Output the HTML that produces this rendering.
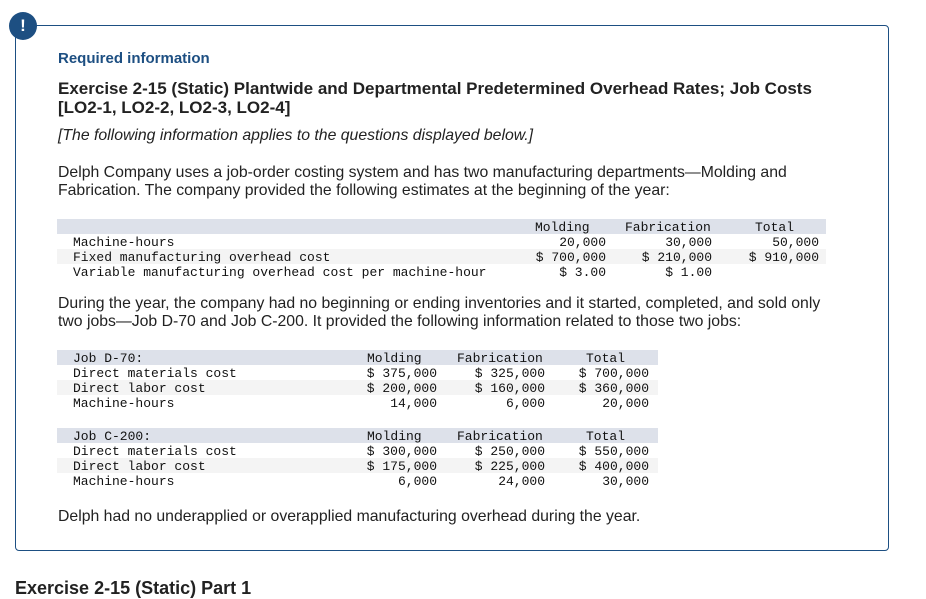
<!DOCTYPE html>
<html><head><meta charset="utf-8"><style>
body{margin:0;width:926px;height:582px;overflow:hidden;background:#fff;position:relative;font-family:"Liberation Sans",sans-serif;color:#222}
.a{position:absolute;white-space:pre}
.box{position:absolute;left:15px;top:25px;width:874px;height:526px;border:1.5px solid #1d4f82;border-radius:4px;box-sizing:border-box}
.ic{position:absolute;left:9px;top:12px;width:28px;height:28px;border-radius:50%;background:#1d4f82;color:#fff;font-weight:bold;font-size:17px;text-align:center;line-height:28px}
.m{font-family:"Liberation Mono",monospace;font-size:13px;color:#111;position:absolute;white-space:pre;line-height:15px}
.r{text-align:right}
.hd{position:absolute;background:#dde1ea}
.sh{position:absolute;background:#f4f4f4}
.p{font-size:15.8px;line-height:18px}
</style></head><body>
<div class="box"></div>
<div class="ic">!</div>
<div class="a" style="left:58px;top:50px;font-size:15px;font-weight:bold;color:#1d4f82">Required information</div>
<div class="a" style="left:58px;top:79px;font-size:17px;font-weight:bold;line-height:19px">Exercise 2-15 (Static) Plantwide and Departmental Predetermined Overhead Rates; Job Costs
[LO2-1, LO2-2, LO2-3, LO2-4]</div>
<div class="a p" style="left:58px;top:127px;font-style:italic">[The following information applies to the questions displayed below.]</div>
<div class="a p" style="left:58px;top:164px">Delph Company uses a job-order costing system and has two manufacturing departments—Molding and
Fabrication. The company provided the following estimates at the beginning of the year:</div>

<div class="hd" style="left:57px;top:219px;width:769px;height:15px"></div>
<div class="sh" style="left:57px;top:249px;width:769px;height:15px"></div>
<div>
<div class="m" style="left:535px;top:220px">Molding</div>
<div class="m" style="left:625px;top:220px">Fabrication</div>
<div class="m" style="left:755px;top:220px">Total</div>
<div class="m" style="left:73px;top:235px">Machine-hours
Fixed manufacturing overhead cost
Variable manufacturing overhead cost per machine-hour</div>
<div class="m r" style="left:506px;width:100px;top:235px">20,000
$ 700,000
$ 3.00</div>
<div class="m r" style="left:612px;width:100px;top:235px">30,000
$ 210,000
$ 1.00</div>
<div class="m r" style="left:719px;width:100px;top:235px">50,000
$ 910,000</div>
</div>

<div class="a p" style="left:58px;top:295px">During the year, the company had no beginning or ending inventories and it started, completed, and sold only
two jobs—Job D-70 and Job C-200. It provided the following information related to those two jobs:</div>

<div class="hd" style="left:57px;top:350px;width:601px;height:15px"></div>
<div class="sh" style="left:57px;top:380px;width:601px;height:15px"></div>
<div>
<div class="m" style="left:73px;top:351px">Job D-70:
Direct materials cost
Direct labor cost
Machine-hours</div>
<div class="m" style="left:367px;top:351px">Molding</div>
<div class="m" style="left:457px;top:351px">Fabrication</div>
<div class="m" style="left:586px;top:351px">Total</div>
<div class="m r" style="left:337px;width:100px;top:366px">$ 375,000
$ 200,000
14,000</div>
<div class="m r" style="left:445px;width:100px;top:366px">$ 325,000
$ 160,000
6,000</div>
<div class="m r" style="left:549px;width:100px;top:366px">$ 700,000
$ 360,000
20,000</div>
</div>

<div class="hd" style="left:57px;top:428px;width:601px;height:15px"></div>
<div class="sh" style="left:57px;top:458px;width:601px;height:15px"></div>
<div>
<div class="m" style="left:73px;top:429px">Job C-200:
Direct materials cost
Direct labor cost
Machine-hours</div>
<div class="m" style="left:367px;top:429px">Molding</div>
<div class="m" style="left:457px;top:429px">Fabrication</div>
<div class="m" style="left:586px;top:429px">Total</div>
<div class="m r" style="left:337px;width:100px;top:444px">$ 300,000
$ 175,000
6,000</div>
<div class="m r" style="left:445px;width:100px;top:444px">$ 250,000
$ 225,000
24,000</div>
<div class="m r" style="left:549px;width:100px;top:444px">$ 550,000
$ 400,000
30,000</div>
</div>

<div class="a p" style="left:58px;top:508px">Delph had no underapplied or overapplied manufacturing overhead during the year.</div>
<div class="a" style="left:15px;top:578px;font-size:18px;font-weight:bold">Exercise 2-15 (Static) Part 1</div>
</body></html>
